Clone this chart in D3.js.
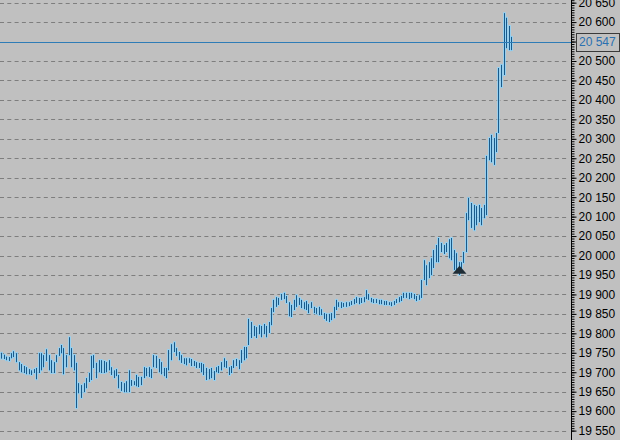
<!DOCTYPE html>
<html>
<head>
<meta charset="utf-8">
<script src="https://cdn.jsdelivr.net/npm/d3@7"></script>
<style>
  html, body { margin: 0; padding: 0; background: #c0c0c0; overflow: hidden; }
  svg { display: block; }
</style>
</head>
<body>
<div id="chart"></div>
<script>
// bar highs / lows, one per bar, left to right
var highs = [
  19750,19745,19740,19739,19749,19754,19749,19726,19721,19716,19713,19708,19705,19708,19711,19749,19749,19744,19759,19744,
  19731,19726,19744,19762,19770,19762,19744,19790,19762,19744,19724,19672,19667,19672,19685,19698,19742,19744,19724,19731,
  19731,19729,19726,19731,19713,19705,19708,19693,19675,19672,19677,19705,19680,19677,19693,19688,19688,19713,19711,19713,
  19708,19744,19742,19734,19726,19711,19711,19757,19772,19777,19762,19752,19744,19736,19736,19736,19734,19729,19726,19724,
  19724,19721,19711,19708,19711,19703,19713,19716,19726,19736,19729,19713,19716,19731,19734,19731,19757,19765,19765,19837,
  19829,19819,19816,19821,19819,19824,19819,19829,19865,19886,19893,19891,19901,19904,19896,19880,19873,19886,19898,19891,
  19886,19880,19883,19875,19880,19868,19865,19868,19862,19852,19850,19850,19852,19868,19886,19880,19880,19878,19880,19880,
  19883,19888,19893,19891,19891,19893,19911,19901,19891,19888,19888,19886,19886,19883,19883,19880,19880,19883,19888,19893,
  19896,19904,19904,19904,19904,19901,19896,19898,19937,19988,19975,19983,19993,20014,20027,20045,20032,20027,20032,20042,
  20045,20014,20006,19983,19983,20009,20109,20148,20135,20130,20127,20130,20122,20130,20256,20302,20310,20302,20315,20482,
  20490,20623,20611,20590,20562
]
var lows = [
  19735,19734,19731,19729,19736,19739,19726,19705,19700,19698,19695,19695,19693,19698,19682,19698,19705,19713,19729,19705,
  19698,19698,19726,19742,19749,19695,19713,19744,19713,19705,19608,19646,19634,19649,19659,19675,19680,19711,19685,19700,
  19698,19698,19700,19705,19693,19685,19690,19659,19652,19649,19649,19649,19665,19667,19664,19662,19667,19685,19690,19688,
  19685,19713,19711,19700,19695,19690,19685,19705,19731,19752,19742,19731,19724,19721,19718,19724,19716,19716,19711,19711,
  19700,19693,19680,19682,19685,19680,19700,19698,19705,19713,19711,19693,19698,19711,19716,19708,19724,19731,19736,19770,
  19788,19793,19788,19798,19790,19798,19790,19801,19821,19855,19868,19873,19886,19888,19878,19844,19842,19860,19868,19873,
  19865,19862,19860,19852,19865,19852,19850,19847,19847,19837,19832,19829,19834,19839,19860,19868,19865,19868,19868,19870,
  19873,19875,19878,19875,19878,19880,19888,19886,19880,19878,19878,19875,19875,19873,19873,19873,19870,19873,19878,19880,
  19883,19891,19891,19888,19891,19888,19883,19886,19891,19937,19924,19942,19950,19968,19983,19983,20009,20004,20009,19993,
  19988,19963,19958,19950,19958,19981,20009,20091,20071,20065,20078,20086,20078,20096,20104,20245,20240,20233,20266,20315,
  20433,20464,20533,20528,20528
]

var yTicks = d3.range(19550, 20651, 50)   // labelled price levels
var lastPrice = 20547                      // current price line
var markIndex = 183                        // black arrow under this bar
var markPrice = 19953

var width = 620, height = 440
var axisX = 571.5

var svg = d3.select('#chart')
  .append('svg')
  .attr('width', width)
  .attr('height', height)

svg.append('rect')
  .attr('width', width)
  .attr('height', height)
  .attr('fill', '#c0c0c0')

var x = d3.scaleLinear().domain([0, highs.length - 1]).range([1, 511])
var y = d3.scaleLinear().domain([19550, 20650]).range([430.6, 2.65])

var fmt = d3.formatLocale({ decimal: '.', thousands: ' ', grouping: [3], currency: ['', ''] }).format(',d')

/** dashed grid */
svg.append('g')
  .selectAll('line')
  .data(yTicks)
  .enter()
  .append('line')
  .attr('x1', 0)
  .attr('x2', axisX - 5)
  .attr('y1', d => Math.round(y(d)) + 0.5)
  .attr('y2', d => Math.round(y(d)) + 0.5)
  .attr('stroke', '#7e7e7e')
  .attr('stroke-dasharray', '4,3.3')

/** bars: glow + core */
var bars = svg.append('g')
var idx = d3.range(highs.length)

bars.selectAll('line.glow')
  .data(idx)
  .enter()
  .append('line')
  .attr('class', 'glow')
  .attr('x1', i => Math.round(x(i)) + 0.5)
  .attr('x2', i => Math.round(x(i)) + 0.5)
  .attr('y1', i => y(highs[i]) - 1)
  .attr('y2', i => y(lows[i]) + 1)
  .attr('stroke', '#8fd2f7')
  .attr('stroke-opacity', 0.8)
  .attr('stroke-width', 3)

bars.selectAll('line.core')
  .data(idx)
  .enter()
  .append('line')
  .attr('class', 'core')
  .attr('x1', i => Math.round(x(i)) + 0.5)
  .attr('x2', i => Math.round(x(i)) + 0.5)
  .attr('y1', i => y(highs[i]))
  .attr('y2', i => y(lows[i]))
  .attr('stroke', '#1a5a8a')
  .attr('stroke-width', 1)

/** current price line */
var ly = Math.floor(y(lastPrice))
svg.append('line')
  .attr('x1', 0)
  .attr('x2', axisX)
  .attr('y1', ly + 0.5)
  .attr('y2', ly + 0.5)
  .attr('stroke', '#2e7cb6')

/** marker triangle */
var mx = Math.round(x(markIndex)) + 0.5
var my = y(markPrice)
svg.append('path')
  .attr('d', 'M' + (mx - 7) + ',' + my + 'L' + (mx + 7) + ',' + my + 'L' + mx + ',' + (my - 8) + 'Z')
  .attr('fill', '#1f2d36')

/** right axis */
svg.append('line')
  .attr('x1', axisX).attr('x2', axisX)
  .attr('y1', 0).attr('y2', height)
  .attr('stroke', '#000')

var minor = svg.append('g')
  .attr('transform', 'translate(' + axisX + ',0)')
  .call(d3.axisRight(y).tickValues(d3.range(19550, 20660, 6.25)).tickSize(3).tickFormat(''))
minor.select('.domain').remove()

var major = svg.append('g')
  .attr('transform', 'translate(' + axisX + ',0)')
  .call(d3.axisRight(y).tickValues(yTicks).tickSize(5).tickPadding(2).tickFormat(fmt))
major.select('.domain').remove()
major.selectAll('text')
  .attr('font-family', 'Liberation Sans, Arial, sans-serif')
  .attr('font-size', 12)
  .attr('fill', '#000')

/** last price label */
svg.append('rect')
  .attr('x', 576.5)
  .attr('y', ly - 8.5)
  .attr('width', 43)
  .attr('height', 18)
  .attr('fill', '#c0c0c0')
  .attr('stroke', '#3a3a3a')

svg.append('text')
  .attr('x', 579)
  .attr('y', ly + 0.5)
  .attr('dy', '0.32em')
  .attr('font-family', 'Liberation Sans, Arial, sans-serif')
  .attr('font-size', 12)
  .attr('fill', '#2a70b0')
  .text(fmt(lastPrice))
</script>
</body>
</html>
